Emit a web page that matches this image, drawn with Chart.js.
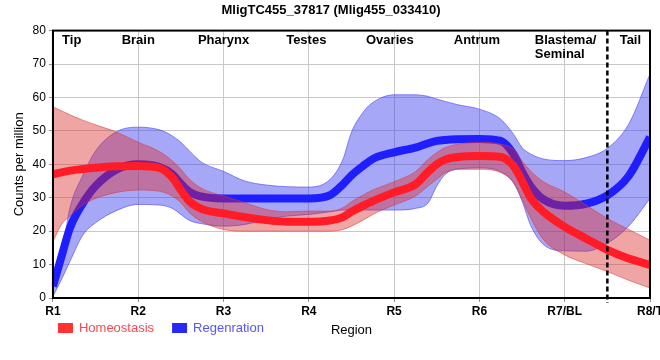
<!DOCTYPE html>
<html>
<head>
<meta charset="utf-8">
<script src="https://cdn.jsdelivr.net/npm/chart.js@4.4.1/dist/chart.umd.min.js"></script>
<style>
  html, body { margin: 0; padding: 0; background: #ffffff; }
  #c { display: block; }
</style>
</head>
<body>
<canvas id="c" width="660" height="360"></canvas>
<script>
// ---- data ----
const chartTitle = 'MligTC455_37817 (Mlig455_033410)';
const tickLabels = ['R1', 'R2', 'R3', 'R4', 'R5', 'R6', 'R7/BL', 'R8/T'];
const regionNames = ['Tip', 'Brain', 'Pharynx', 'Testes', 'Ovaries', 'Antrum', 'Blastema/\nSeminal', 'Tail'];
const regionAt = [1.22, 2.0, 3.0, 3.97, 4.95, 5.97, 6.65, 7.77];
const tailBoundary = 7.5;
const seriesNames = ['Homeostasis', 'Regenration'];

const xPos = [1, 1.1, 1.2, 1.35, 1.5, 1.75, 2, 2.25, 2.4, 2.5, 2.6, 2.75, 3, 3.25, 3.5, 3.75, 4,
              4.25, 4.4, 4.5, 4.65, 4.75, 5, 5.25, 5.4, 5.5, 5.6, 5.75, 6, 6.25, 6.4, 6.5, 6.6, 6.75, 7, 7.25, 7.5, 7.75, 8];

const homeo = [37.0, 37.6, 38.1, 38.6, 39.0, 39.4, 39.5, 38.9, 36.0, 32.3, 28.9, 26.6, 25.3, 24.2, 23.3, 22.8, 22.8,
               23.2, 24.2, 25.8, 27.8, 29.0, 31.6, 34.0, 37.8, 40.0, 41.4, 42.2, 42.5, 42.2, 39.5, 35.0, 30.0, 25.8, 21.3, 17.8, 14.4, 11.8, 9.9];
const homeoUpper = [57.2, 56.0, 54.8, 53.2, 51.8, 49.6, 46.6, 43.8, 41.0, 38.5, 35.5, 32.7, 30.5, 28.5, 26.5, 25.8, 26.0,
                    26.0, 27.0, 28.8, 31.0, 32.3, 34.8, 37.8, 41.5, 43.5, 45.0, 46.0, 46.6, 46.0, 44.5, 41.0, 38.0, 34.8, 31.7, 27.8, 23.8, 20.5, 17.3];
const homeoLower = [16.9, 22.0, 24.5, 27.8, 29.8, 31.6, 32.3, 31.9, 30.5, 28.5, 25.5, 22.8, 20.5, 20.0, 20.0, 20.0, 20.0,
                    20.0, 20.5, 21.5, 23.5, 25.0, 27.8, 30.5, 33.5, 35.5, 37.5, 38.5, 38.5, 37.5, 34.5, 29.5, 24.0, 17.5, 12.9, 10.3, 7.9, 5.3, 3.0];

const regen = [3.5, 12.4, 21.0, 28.3, 33.5, 38.5, 40.0, 39.2, 37.0, 34.2, 31.8, 30.3, 29.8, 29.8, 29.8, 29.8, 29.8,
               30.8, 34.0, 36.7, 39.8, 41.6, 43.6, 45.0, 46.3, 47.0, 47.3, 47.5, 47.6, 47.0, 43.0, 37.8, 33.5, 29.5, 27.6, 28.2, 30.7, 36.5, 48.1];
const regenUpper = [5.0, 13.0, 27.0, 36.7, 44.0, 49.8, 51.1, 50.3, 48.5, 46.6, 44.0, 40.5, 37.9, 35.0, 33.8, 33.3, 33.2,
                    35.5, 41.5, 49.6, 56.0, 58.5, 60.8, 60.8, 60.3, 59.5, 58.8, 57.8, 56.5, 53.5, 49.0, 45.0, 43.1, 41.6, 41.1, 42.0, 44.8, 52.0, 67.0];
const regenLower = [0.5, 5.5, 11.0, 18.8, 22.5, 26.2, 28.0, 27.8, 26.8, 25.0, 23.2, 22.2, 21.5, 22.0, 23.5, 24.5, 25.0,
                    25.8, 26.3, 26.3, 26.3, 26.3, 26.3, 26.8, 28.5, 33.5, 37.0, 38.6, 38.9, 37.8, 34.5, 29.0, 21.8, 16.0, 14.1, 14.0, 16.4, 21.5, 29.8];

const yMin = 0, yMax = 80, yStep = 10;

// ---- helpers ----
const pts = (arr) => arr.map((v, i) => ({ x: xPos[i], y: v }));
const FONT = "'Liberation Sans', Arial, sans-serif";

const lineDS = (label, arr, color) => ({
  label, data: pts(arr), borderColor: color, backgroundColor: color,
  borderWidth: 8, pointRadius: 0, fill: false, cubicInterpolationMode: 'monotone',
  borderCapStyle: 'butt', borderJoinStyle: 'round'
});
const bandDS = (label, arr, edge, fillCol, fill) => ({
  label, data: pts(arr), borderColor: edge, backgroundColor: fillCol,
  borderWidth: 1, pointRadius: 0, fill: fill, cubicInterpolationMode: 'monotone'
});

const legendColors = {
  box: ['rgb(255,50,50)', 'rgb(40,40,245)'],
  text: ['rgb(255,70,80)', 'rgb(85,85,255)']
};

const decor = {
  id: 'decor',
  afterDatasetsDraw(chart) {
    const { ctx, chartArea: a, scales: { x } } = chart;
    ctx.save();
    // tail boundary
    const xb = x.getPixelForValue(tailBoundary);
    ctx.strokeStyle = '#000';
    ctx.lineWidth = 2.5;
    ctx.setLineDash([5, 3]);
    ctx.beginPath();
    ctx.moveTo(xb, a.top);
    ctx.lineTo(xb, a.bottom + 5);
    ctx.stroke();
    ctx.setLineDash([]);
    // frame
    ctx.lineWidth = 2;
    ctx.strokeRect(a.left, a.top, a.right - a.left, a.bottom - a.top);
    // region labels
    ctx.fillStyle = '#000';
    ctx.font = 'bold 13px ' + FONT;
    ctx.textBaseline = 'alphabetic';
    regionNames.forEach((name, i) => {
      const lines = name.split('\n');
      const px = x.getPixelForValue(regionAt[i]);
      ctx.textAlign = lines.length > 1 ? 'left' : 'center';
      lines.forEach((t, j) => ctx.fillText(t, px, a.top + 13 + j * 14.5));
    });
    ctx.restore();
  },
  afterDraw(chart) {
    // legend row, on the same line as the axis title
    const { ctx, chartArea: a } = chart;
    ctx.save();
    ctx.font = '13px ' + FONT;
    ctx.textAlign = 'left';
    ctx.textBaseline = 'middle';
    const yMid = a.bottom + 30;
    let lx = a.left + 5;
    seriesNames.forEach((n, i) => {
      ctx.fillStyle = legendColors.box[i];
      ctx.fillRect(lx, yMid - 5, 15, 10);
      ctx.fillStyle = legendColors.text[i];
      ctx.fillText(n, lx + 21, yMid);
      lx += 21 + ctx.measureText(n).width + 18;
    });
    ctx.restore();
  }
};

new Chart(document.getElementById('c'), {
  type: 'line',
  data: {
    datasets: [
      lineDS(seriesNames[0], homeo, 'rgb(255,28,38)'),
      bandDS('homeoUpper', homeoUpper, 'rgba(215,60,60,0.55)', 'rgba(220,40,40,0.42)', '+1'),
      bandDS('homeoLower', homeoLower, 'rgba(215,60,60,0.55)', 'rgba(220,40,40,0.42)', false),
      lineDS(seriesNames[1], regen, 'rgb(30,30,255)'),
      bandDS('regenUpper', regenUpper, 'rgba(70,70,240,0.6)', 'rgba(60,60,240,0.45)', '+1'),
      bandDS('regenLower', regenLower, 'rgba(70,70,240,0.6)', 'rgba(60,60,240,0.45)', false)
    ]
  },
  options: {
    responsive: false,
    animation: false,
    layout: { padding: { left: 12, right: 10, top: 0, bottom: 22 } },
    scales: {
      x: {
        type: 'linear', min: 1, max: 8,
        afterBuildTicks: (s) => { s.ticks = tickLabels.map((_, i) => ({ value: i + 1 })); },
        afterFit: (s) => { s.paddingRight = 0; },
        ticks: {
          autoSkip: false, maxRotation: 0, padding: 2, color: '#000',
          font: { family: FONT, size: 12, weight: 'bold' },
          callback: (v) => tickLabels[Math.round(v) - 1]
        },
        grid: { color: 'rgb(200,200,200)', lineWidth: 1, tickLength: 4, tickColor: 'rgb(150,150,150)' },
        border: { display: true, color: '#000', width: 2 },
        title: { display: true, text: 'Region', color: '#000', font: { family: FONT, size: 13 }, padding: { top: 2, bottom: 0 } }
      },
      y: {
        min: yMin, max: yMax,
        ticks: { stepSize: yStep, padding: 3, color: '#000', font: { family: FONT, size: 12 } },
        grid: { color: 'rgb(200,200,200)', lineWidth: 1, tickLength: 4, tickColor: 'rgb(150,150,150)' },
        border: { display: true, color: '#000', width: 2 },
        title: { display: true, text: 'Counts per million', color: '#000', font: { family: FONT, size: 13 }, padding: { top: 0, bottom: 2 } }
      }
    },
    plugins: {
      title: {
        display: true, text: chartTitle, color: '#000',
        font: { family: FONT, size: 13, weight: 'bold' },
        padding: { top: 3, bottom: 12 }
      },
      legend: { display: false },
      tooltip: { enabled: false }
    }
  },
  plugins: [decor]
});
</script>
</body>
</html>
